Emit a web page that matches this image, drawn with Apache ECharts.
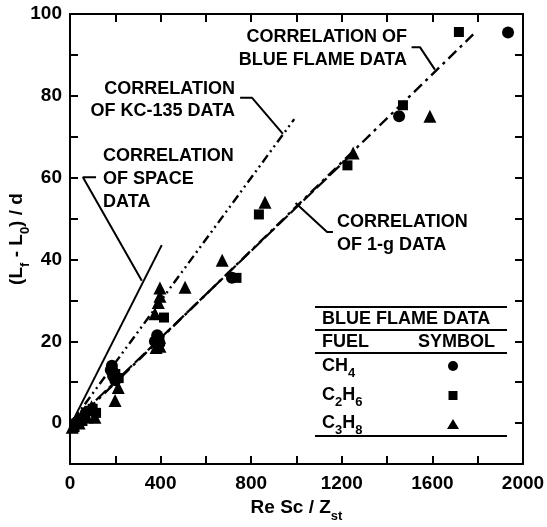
<!DOCTYPE html>
<html>
<head>
<meta charset="utf-8">
<script src="https://cdn.jsdelivr.net/npm/echarts@6/dist/echarts.min.js"></script>
<style>
  html, body { margin: 0; padding: 0; background: #fff; }
  #chart { width: 547px; height: 527px; }
</style>
</head>
<body>
<div id="chart"></div>
<script>
// Blue flame data: Re Sc / Z_st versus (Lf - L0) / d
const ch4X = [25, 45, 70, 180, 190, 200, 185, 375, 385, 395, 715, 1453, 1934];
const ch4Y = [0, 1, 2.5, 13, 11.5, 10.5, 14, 20, 21.5, 19.5, 35.5, 75, 95.5];

const c2h6X = [20, 55, 85, 100, 115, 200, 215, 395, 415, 735, 834, 1225, 1470, 1717];
const c2h6Y = [-1, 0.5, 3, 3.5, 2.5, 12, 11, 20.5, 25.8, 35.5, 51, 63, 77.7, 95.6];

const c3h8X = [10, 40, 75, 110, 95, 199, 213, 205, 380, 397, 395, 375, 390, 397, 397, 508, 672, 861, 1250, 1589];
const c3h8Y = [-1, 0, 1.5, 1.4, 4, 5.5, 8.7, 12.5, 18.5, 18.8, 21, 26.7, 29.5, 31, 33, 33.2, 39.8, 54, 66, 75];

// Correlation lines (end points)
const spaceX = [0, 405];   const spaceY = [-0.8, 43.5];
const kcX = [0, 990];      const kcY = [-0.3, 74.3];
const oneGX = [0, 1230];   const oneGY = [-0.5, 65];
const blueX = [0, 1780];   const blueY = [-0.9, 95];

// Leader lines from the annotation texts to their curves
const leadBlueX = [1508, 1545, 1611];  const leadBlueY = [91.9, 91.9, 86.4];
const leadKcX = [751, 804, 940];       const leadKcY = [79.5, 79.5, 70.7];
const leadSpaceX = [115, 57, 317];     const leadSpaceY = [60.1, 60.1, 34.8];
const leadOneGX = [1161, 1135, 996];   const leadOneGY = [46.7, 46.7, 53.8];

// Axis ranges and ticks
const xMin = 0, xMax = 2000, xStep = 200, xLabelStep = 400;
const yMin = -10, yMax = 100, yStep = 10, yLabelStep = 20;

const FONT = "'Liberation Sans', Arial, Helvetica, sans-serif";
const BLACK = '#000';

const pairs = (xs, ys) => xs.map((x, i) => [x, ys[i]]);

const chart = echarts.init(document.getElementById('chart'), null, { renderer: 'canvas' });

const axisLineStyle = { color: BLACK, width: 2 };
const tickStyle = { inside: true, length: 8, lineStyle: { color: BLACK, width: 2 } };
const labelFont = { color: BLACK, fontSize: 19, fontWeight: 'bold', fontFamily: FONT };
const subRich = {
  m: { fontSize: 19, fontWeight: 'bold', fontFamily: FONT, color: BLACK, lineHeight: 22, verticalAlign: 'top' },
  sub: { fontSize: 13, fontWeight: 'bold', fontFamily: FONT, color: BLACK, lineHeight: 25, verticalAlign: 'bottom' }
};

function lineSeries(xs, ys, dash, width) {
  return {
    type: 'line', data: pairs(xs, ys), symbol: 'none', silent: true, z: 3,
    lineStyle: { color: BLACK, width: width || 2, type: dash }
  };
}

function pointSeries(xs, ys, symbol, size) {
  return {
    type: 'scatter', data: pairs(xs, ys), symbol: symbol, symbolSize: size, z: 5,
    itemStyle: { color: BLACK, opacity: 1 }
  };
}

const option = {
  animation: false,
  backgroundColor: '#fff',
  grid: { left: 70, right: 24, top: 14, bottom: 63, containLabel: false, outerBoundsMode: 'none' },
  xAxis: [{
    type: 'value', min: xMin, max: xMax, interval: xStep,
    axisLine: { onZero: false, lineStyle: axisLineStyle },
    axisTick: tickStyle,
    splitLine: { show: false },
    axisLabel: Object.assign({ margin: 10, showMinLabel: true, showMaxLabel: true,
      formatter: v => (v % xLabelStep === 0 ? String(v) : '') }, labelFont),
    name: '{m|Re Sc / Z}{sub|st}', nameLocation: 'middle', nameGap: 34,
    nameTextStyle: { rich: subRich }
  }, {
    type: 'value', position: 'top', min: xMin, max: xMax, interval: xStep,
    axisLine: { onZero: false, lineStyle: axisLineStyle },
    axisTick: tickStyle, axisLabel: { show: false }, splitLine: { show: false }
  }],
  yAxis: [{
    type: 'value', min: yMin, max: yMax, interval: yStep,
    axisLine: { onZero: false, lineStyle: axisLineStyle },
    axisTick: tickStyle,
    splitLine: { show: false },
    axisLabel: Object.assign({ margin: 8,
      formatter: v => (v >= 0 && v % yLabelStep === 0 ? String(v) : '') }, labelFont),
    name: '{m|(L}{sub|f}{m| - L}{sub|0}{m|) / d}', nameLocation: 'middle', nameGap: 38,
    nameMoveOverlap: false,
    nameTextStyle: { rich: subRich }
  }, {
    type: 'value', position: 'right', min: yMin, max: yMax, interval: yStep,
    axisLine: { onZero: false, lineStyle: axisLineStyle },
    axisTick: tickStyle, axisLabel: { show: false }, splitLine: { show: false }
  }],
  series: [
    lineSeries(spaceX, spaceY, 'solid', 2),
    lineSeries(kcX, kcY, [9, 4, 2, 4, 2, 4], 2.4),
    lineSeries(oneGX, oneGY, [14, 4], 2.2),
    lineSeries(blueX, blueY, [11, 5, 3, 5], 2.4),
    lineSeries(leadBlueX, leadBlueY, 'solid', 2),
    lineSeries(leadKcX, leadKcY, 'solid', 2),
    lineSeries(leadSpaceX, leadSpaceY, 'solid', 2),
    lineSeries(leadOneGX, leadOneGY, 'solid', 2),
    pointSeries(ch4X, ch4Y, 'circle', 12),
    pointSeries(c2h6X, c2h6Y, 'rect', 10),
    pointSeries(c3h8X, c3h8Y, 'triangle', 13)
  ]
};

chart.setOption(option);

// Annotation texts, anchored in data coordinates
const notes = [
  { x: 1488, y: 94.4, text: 'CORRELATION OF', align: 'right' },
  { x: 1488, y: 88.8, text: 'BLUE FLAME DATA', align: 'right' },
  { x: 728, y: 81.7, text: 'CORRELATION', align: 'right' },
  { x: 728, y: 76.3, text: 'OF KC-135 DATA', align: 'right' },
  { x: 146, y: 65.3, text: 'CORRELATION', align: 'left' },
  { x: 146, y: 59.7, text: 'OF SPACE', align: 'left' },
  { x: 146, y: 54.0, text: 'DATA', align: 'left' },
  { x: 1179, y: 49.1, text: 'CORRELATION', align: 'left' },
  { x: 1179, y: 43.5, text: 'OF 1-g DATA', align: 'left' }
];

const graphics = notes.map(n => {
  const p = chart.convertToPixel({ xAxisIndex: 0, yAxisIndex: 0 }, [n.x, n.y]);
  return {
    type: 'text', x: p[0], y: p[1], z: 10,
    style: { text: n.text, fill: BLACK, font: 'bold 18px ' + FONT,
      textAlign: n.align, textVerticalAlign: 'middle' }
  };
});

// Fuel / symbol table
const tblLeft = 315, tblRight = 507, txtLeft = 322, symX = 453;
const rules = [307, 330, 353, 436];
rules.forEach(y => graphics.push({
  type: 'line', z: 10, shape: { x1: tblLeft, y1: y, x2: tblRight, y2: y },
  style: { stroke: BLACK, lineWidth: 2 }
}));
const tblRich = {
  m: { fontSize: 18, fontWeight: 'bold', fontFamily: FONT, fill: BLACK, color: BLACK, lineHeight: 20, verticalAlign: 'top' },
  s: { fontSize: 13, fontWeight: 'bold', fontFamily: FONT, fill: BLACK, color: BLACK, lineHeight: 23, verticalAlign: 'bottom' }
};
const tblText = (x, y, text, align) => ({
  type: 'text', x: x, y: y, z: 10,
  style: { text: text, rich: tblRich, font: 'bold 18px ' + FONT, fill: BLACK,
    textAlign: align || 'left', textVerticalAlign: 'top' }
});
// y values below are the top edge of each text row
graphics.push(tblText(txtLeft, 310, '{m|BLUE FLAME DATA}'));
graphics.push(tblText(txtLeft, 333, '{m|FUEL}'));
graphics.push(tblText(495, 333, '{m|SYMBOL}', 'right'));
graphics.push(tblText(txtLeft, 357, '{m|CH}{s|4}'));
graphics.push(tblText(txtLeft, 386, '{m|C}{s|2}{m|H}{s|6}'));
graphics.push(tblText(txtLeft, 414, '{m|C}{s|3}{m|H}{s|8}'));
graphics.push({ type: 'circle', z: 10, shape: { cx: symX, cy: 366, r: 5 }, style: { fill: BLACK } });
graphics.push({ type: 'rect', z: 10, shape: { x: symX - 4.5, y: 391, width: 9, height: 9 }, style: { fill: BLACK } });
graphics.push({ type: 'polygon', z: 10, shape: { points: [[symX, 419], [symX - 6, 429], [symX + 6, 429]] }, style: { fill: BLACK } });

chart.setOption({ graphic: graphics });
</script>
</body>
</html>
